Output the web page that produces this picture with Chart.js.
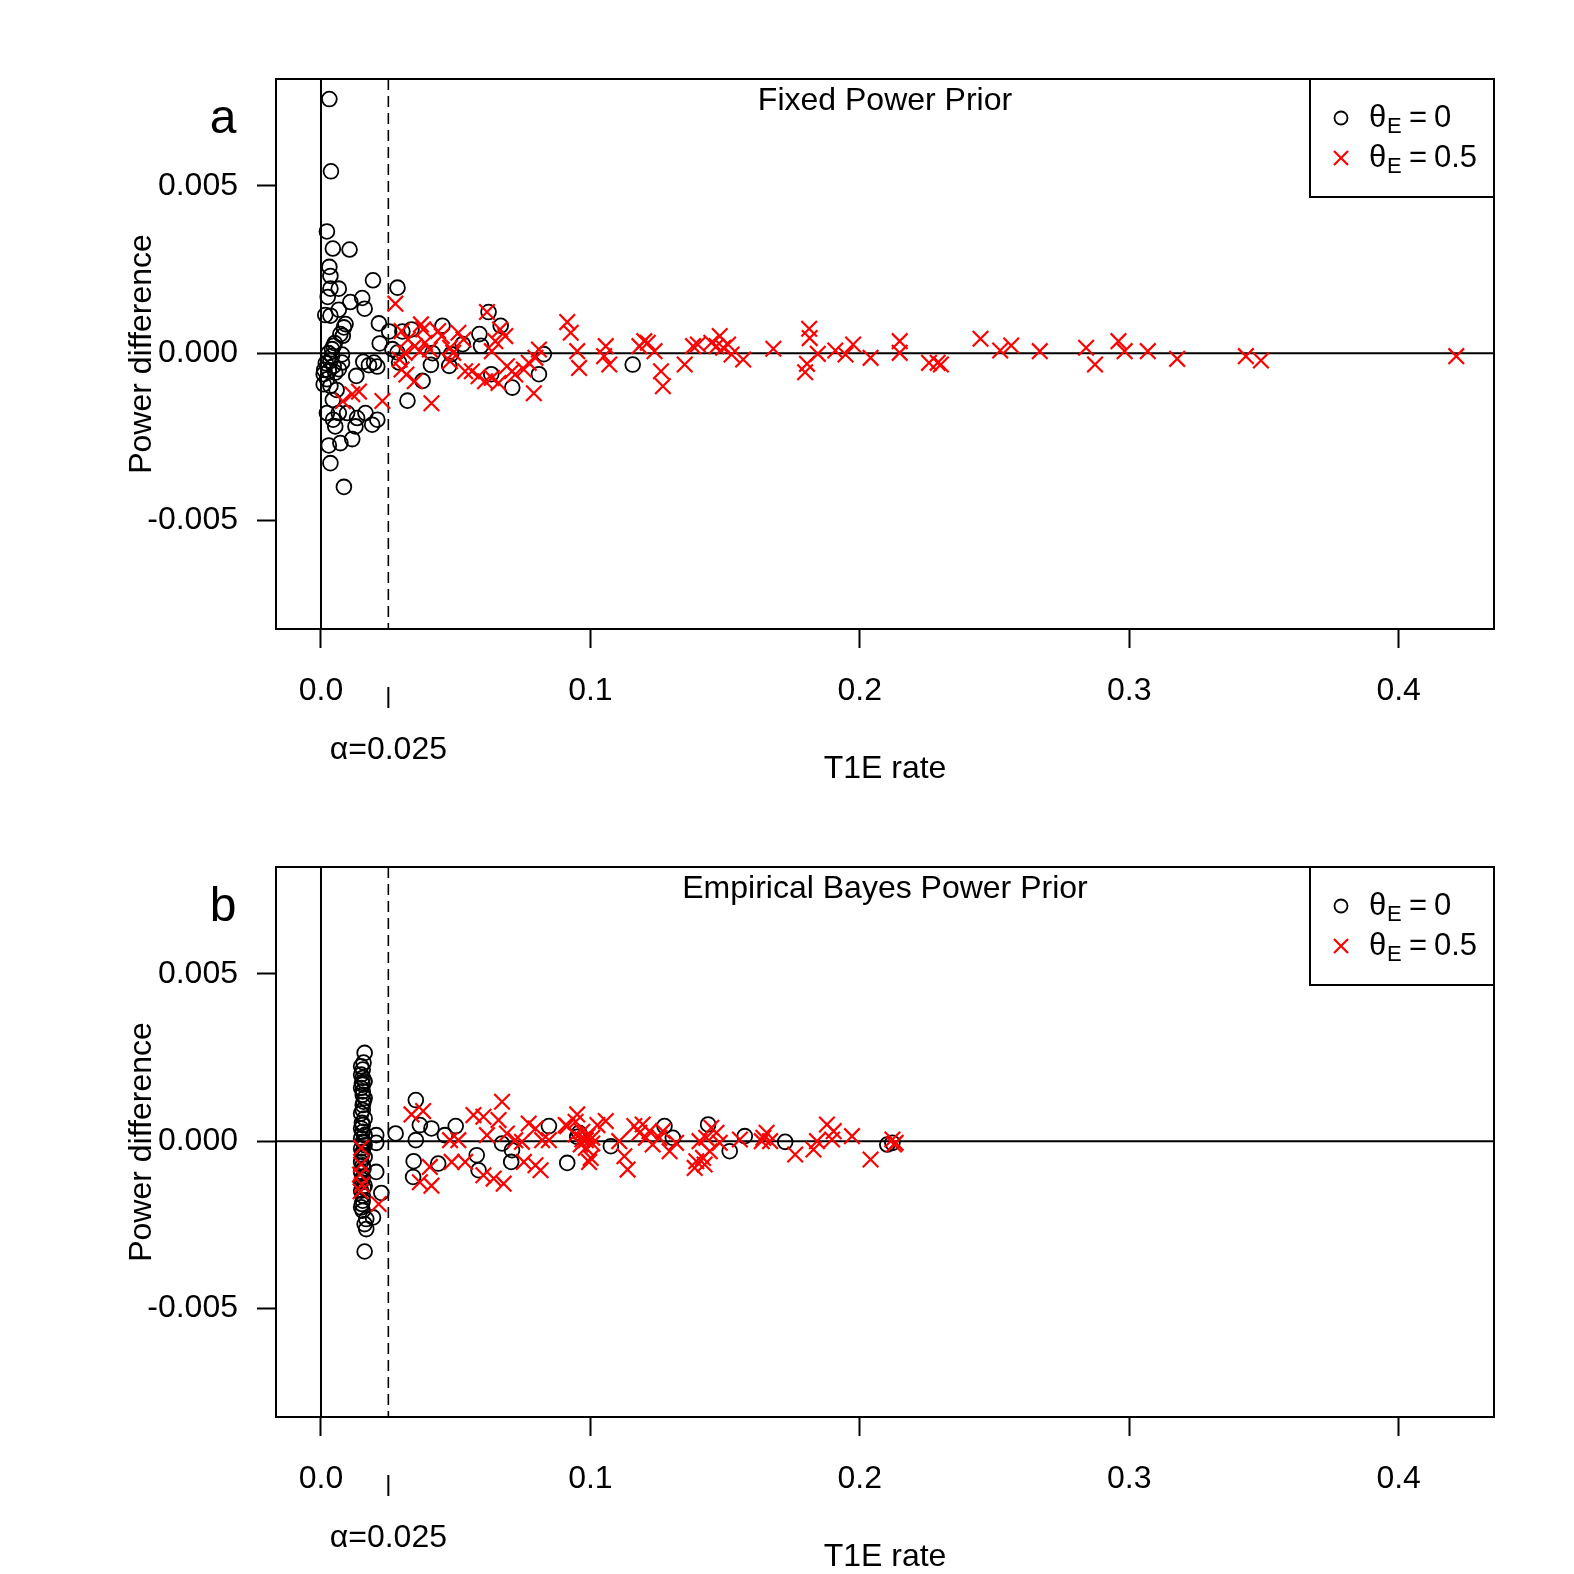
<!DOCTYPE html>
<html>
<head>
<meta charset="utf-8">
<script src="https://cdn.jsdelivr.net/npm/chart.js@4.4.1/dist/chart.umd.min.js"></script>
<style>
  body { margin: 0; background: #fff; }
  .panel { position: absolute; left: 0; width: 1574px; height: 786px; }
</style>
</head>
<body>
<div class="panel" style="top:0"><canvas id="chartA" width="1574" height="786"></canvas></div>
<div class="panel" style="top:788px"><canvas id="chartB" width="1574" height="786"></canvas></div>
<script>
// axis ticks
const xTicks = [0, 0.1, 0.2, 0.3, 0.4];
const yTicks = [-0.005, 0, 0.005];
const alpha = 0.025;
const panelTitles = ['Fixed Power Prior', 'Empirical Bayes Power Prior'];
const panelLetters = ['a', 'b'];
const seriesLabels = ['0', '0.5'];

// [T1E rate, power difference] — panel a, theta_E = 0
const fixedNull = [
  [0.0031, 0.0076], [0.0037, 0.00544], [0.0022, 0.00364], [0.0044, 0.00313], [0.0106, 0.0031],
  [0.0031, 0.00258], [0.0035, 0.00231], [0.0035, 0.00193], [0.0066, 0.00193], [0.0025, 0.00168],
  [0.0193, 0.00218], [0.0284, 0.00196], [0.0153, 0.00165], [0.0109, 0.00153], [0.0162, 0.00133],
  [0.0066, 0.0013], [0.0016, 0.00114], [0.0035, 0.00112], [0.0091, 0.00087], [0.0085, 0.00077],
  [0.0072, 0.00057], [0.0081, 0.00052], [0.0215, 0.00089], [0.0253, 0.00065], [0.0302, 0.00065],
  [0.0336, 0.00071], [0.0451, 0.00082], [0.0218, 0.00029], [0.0047, 0.00022], [0.0041, 0.00012],
  [0.0078, -0.00004], [0.0041, -0.00008], [0.0035, -0.00023], [0.0078, -0.00028], [0.0047, -0.00038],
  [0.0066, -0.00048], [0.0029, -0.00053], [0.0053, -0.00058], [0.001, -0.00063], [0.0022, -0.00078],
  [0.001, -0.00093], [0.0035, -0.00098], [0.0012, -0.0005], [0.0018, -0.0003], [0.0028, 0.0],
  [0.0051, 0.0003], [0.0058, -0.0011], [0.0044, -0.0014],
  [0.0157, -0.00026], [0.0178, -0.00036], [0.0197, -0.00028], [0.0209, -0.0004], [0.0131, -0.00068],
  [0.0284, 0.00002], [0.029, -0.00028], [0.0265, 0.00012], [0.0414, 0.0], [0.0408, -0.00035],
  [0.0483, -0.00003], [0.0476, -0.00038], [0.0588, 0.00057], [0.0594, 0.00022], [0.0526, 0.00027],
  [0.0667, 0.00082], [0.0622, 0.00123], [0.0377, -0.00083], [0.0632, -0.00063], [0.071, -0.00103],
  [0.0809, -0.00063], [0.0827, -0.00003], [0.0321, -0.00142], [0.0022, -0.00179], [0.0066, -0.00179],
  [0.0045, -0.00199], [0.0053, -0.00219], [0.0097, -0.00179], [0.0165, -0.00179], [0.0134, -0.00194],
  [0.0128, -0.00219], [0.0209, -0.00199], [0.019, -0.00214], [0.0029, -0.00276], [0.0072, -0.00269],
  [0.0116, -0.00257], [0.0035, -0.00329], [0.0085, -0.004], [0.1157, -0.00034]
];

// panel a, theta_E = 0.5
const fixedAlt = [
  [0.0276, 0.00148], [0.0616, 0.00123], [0.0914, 0.00093], [0.0927, 0.00061], [0.0371, 0.00086],
  [0.0379, 0.00071], [0.0435, 0.00066], [0.0448, 0.00051], [0.051, 0.00061], [0.0529, 0.00041],
  [0.0299, 0.00066], [0.0323, 0.00041], [0.0348, 0.00021], [0.0367, 0.00006], [0.0311, 0.00001],
  [0.0292, -0.00019], [0.0386, 0.00031], [0.0404, 0.00011], [0.0479, 0.00016], [0.0491, 0.00001],
  [0.0479, -0.00024], [0.0665, 0.00071], [0.0684, 0.00051], [0.0647, 0.00036], [0.0634, 0.00006],
  [0.0809, 0.00011], [0.0796, -0.00014], [0.0771, -0.00029], [0.0753, -0.00049], [0.0721, -0.00064],
  [0.0951, 0.00006], [0.0958, -0.00044], [0.1057, 0.00021], [0.1051, -0.00009], [0.107, -0.00034],
  [0.12, 0.00036], [0.1213, 0.00031], [0.1238, 0.00006], [0.1182, 0.00021], [0.1262, -0.00054],
  [0.1269, -0.00099], [0.135, -0.00034], [0.1381, 0.00021], [0.1399, 0.00026], [0.1449, 0.00031],
  [0.1468, 0.00021], [0.148, 0.00051], [0.1493, 0.00016], [0.1511, 0.00026], [0.1524, -0.00004],
  [0.1567, -0.00019], [0.1679, 0.00013], [0.056, -0.00054], [0.0585, -0.00069], [0.0609, -0.00084],
  [0.0634, -0.00074], [0.0659, -0.00089], [0.0535, -0.00054], [0.069, -0.00039], [0.0709, -0.00054],
  [0.041, -0.0015], [0.079, -0.0012], [0.0299, -0.00049], [0.0317, -0.00064], [0.0348, -0.00084],
  [0.0228, -0.00143], [0.0141, -0.00115], [0.0116, -0.00123], [0.0081, -0.00144],
  [0.1812, 0.00073], [0.1814, 0.00045], [0.1844, -0.00002], [0.1804, -0.00032], [0.1797, -0.00057],
  [0.1909, 0.00008], [0.1947, -0.00004], [0.1975, 0.00026], [0.204, -0.00014], [0.2148, 0.00036],
  [0.2148, 0.00001], [0.2257, -0.00029], [0.2289, -0.00029], [0.2301, -0.00034], [0.2448, 0.00043],
  [0.2521, 0.00008], [0.2562, 0.00023], [0.2668, 0.00006], [0.284, 0.00016], [0.2873, -0.00034],
  [0.296, 0.00036], [0.2983, 0.00006], [0.3069, 0.00006], [0.3178, -0.00017], [0.3433, -0.00009],
  [0.3489, -0.00022], [0.4214, -0.00009]
];

// panel b, theta_E = 0
const ebNull = [
  [0.0162, 0.00264], [0.0149, 0.00224], [0.0155, 0.00214], [0.0149, 0.00199], [0.0155, 0.00189],
  [0.0162, 0.00179], [0.0155, 0.00169], [0.0149, 0.00159], [0.0155, 0.00149], [0.0155, 0.00139],
  [0.0162, 0.00129], [0.0155, 0.00108], [0.0155, 0.00093], [0.0149, 0.00083], [0.0162, 0.00068],
  [0.0155, 0.00048], [0.0149, 0.00038], [0.0155, 0.00028], [0.0162, 0.00018], [0.0149, 0.00008],
  [0.0155, -0.00002], [0.0162, -0.00012], [0.0149, -0.00022], [0.0155, -0.00032], [0.0162, -0.00047],
  [0.0149, -0.00062], [0.0155, -0.00072], [0.0149, -0.00092], [0.0155, -0.00108], [0.0149, -0.00123],
  [0.0162, -0.00133], [0.0149, -0.00148], [0.0155, -0.00163], [0.0155, -0.00178], [0.0149, -0.00198],
  [0.0155, -0.00208], [0.0168, -0.00233], [0.0162, -0.00248], [0.0168, -0.00263], [0.0162, -0.0033],
  [0.0158, 0.00235], [0.0152, 0.00175], [0.0158, 0.00118], [0.0152, 0.00055], [0.0158, -0.00005],
  [0.0152, -0.0004], [0.0158, -0.00082], [0.0152, -0.00115], [0.0158, -0.0014], [0.0152, -0.00188],
  [0.0205, 0.00018], [0.0205, -0.00005], [0.0205, -0.00092], [0.0224, -0.00155], [0.0193, -0.00228],
  [0.0277, 0.00023], [0.0352, 0.00123], [0.0367, 0.00048], [0.041, 0.00038], [0.046, 0.00018],
  [0.05, 0.00045], [0.0352, 0.00003], [0.0344, -0.0006], [0.0342, -0.00107], [0.0435, -0.00067],
  [0.0578, -0.00042], [0.0585, -0.00087], [0.0672, -0.00007], [0.0706, -0.00062], [0.0709, -0.00027],
  [0.0846, 0.00045], [0.0914, -0.00065], [0.0951, 0.00013], [0.0958, 0.00025], [0.1076, -0.00015],
  [0.1275, 0.00045], [0.1306, 0.0001], [0.1437, 0.0005], [0.1517, -0.0003], [0.1573, 0.00015],
  [0.1723, -0.00002], [0.2102, -0.0001], [0.2121, -0.00005]
];

// panel b, theta_E = 0.5
const ebAlt = [
  [0.0149, -0.0002], [0.0149, -0.0007], [0.0145, -0.001], [0.0152, -0.0013], [0.0147, -0.0015],
  [0.0214, -0.00188], [0.0336, 0.0008], [0.0379, 0.0009], [0.0404, -0.00077], [0.0367, -0.00123],
  [0.041, -0.00133], [0.0479, 0.00003], [0.051, 0.00003], [0.0485, -0.00062], [0.0535, -0.00062],
  [0.0566, 0.00078], [0.0603, 0.00073], [0.0672, 0.00118], [0.0659, 0.00063], [0.069, 0.00023],
  [0.0616, 0.00018], [0.0721, 0.00003], [0.0746, -0.00002], [0.0603, -0.00102], [0.0641, -0.00112],
  [0.0678, -0.00127], [0.0753, -0.00062], [0.0796, -0.00072], [0.0815, -0.00087], [0.0771, 0.00053],
  [0.0796, 0.00038], [0.0821, 0.00003], [0.0846, 0.00003], [0.0908, 0.00048], [0.0945, 0.00058],
  [0.097, 0.00028], [0.0983, 0.00003], [0.1007, -0.00007], [0.0995, -0.00062], [0.1026, 0.00048],
  [0.0951, 0.0008], [0.0914, 0.00045], [0.0945, 0.0002], [0.097, 0.00005], [0.0989, 0.00015],
  [0.1007, 0.0001], [0.0983, -0.0002], [0.1001, -0.0005], [0.0964, -0.0001], [0.1057, 0.0006],
  [0.1138, -0.00085], [0.1126, -0.00045], [0.1107, 0.0], [0.1163, 0.00045], [0.1194, 0.0005],
  [0.1219, 0.0003], [0.1182, 0.00025], [0.1206, 0.0001], [0.1231, -0.0001], [0.1256, 0.0001],
  [0.1269, 0.0003], [0.1294, -0.0003], [0.1318, -0.00005], [0.1387, -0.0008], [0.1393, -0.0006],
  [0.1418, -0.0005], [0.1405, 0.0], [0.143, 0.0001], [0.1449, 0.0004], [0.1468, 0.00025],
  [0.148, -0.00005], [0.1443, -0.0003], [0.1424, -0.0007], [0.1555, 0.00005], [0.1642, 0.0001],
  [0.1654, 0.00025], [0.1667, 0.0], [0.1636, 0.0], [0.176, -0.0004], [0.1828, -0.00025],
  [0.1841, 0.0], [0.1878, 0.0005], [0.1897, 0.00005], [0.1903, 0.0003], [0.1971, 0.00015],
  [0.204, -0.00055], [0.2121, 0.00005], [0.2133, -0.00005], [0.2127, -0.0001]
];

const FONT = '"Liberation Sans", Arial, sans-serif';
Chart.defaults.font.family = FONT;
Chart.defaults.color = '#000';

function toPoints(pairs) {
  return pairs.map(p => ({ x: p[0], y: p[1] }));
}

// R-style decorations: box, reference lines, titles, legend
const rDecor = {
  id: 'rDecor',
  beforeDatasetsDraw(chart, args, opts) {
    const { ctx, chartArea: a, scales: { x, y } } = chart;
    ctx.save();
    ctx.strokeStyle = '#000';
    ctx.lineWidth = 2;
    const x0 = x.getPixelForValue(0), y0 = y.getPixelForValue(0), xa = x.getPixelForValue(alpha);
    ctx.beginPath();
    ctx.moveTo(x0, a.top); ctx.lineTo(x0, a.bottom);
    ctx.moveTo(a.left, y0); ctx.lineTo(a.right, y0);
    ctx.stroke();
    ctx.setLineDash([11, 6]);
    ctx.lineWidth = 1.6;
    ctx.beginPath();
    ctx.moveTo(xa, a.top); ctx.lineTo(xa, a.bottom);
    ctx.stroke();
    ctx.restore();
  },
  afterDraw(chart, args, opts) {
    const { ctx, chartArea: a, scales: { x } } = chart;
    ctx.save();
    ctx.strokeStyle = '#000';
    ctx.fillStyle = '#000';
    ctx.lineWidth = 2;
    ctx.strokeRect(a.left, a.top, a.right - a.left, a.bottom - a.top);

    // title inside box
    ctx.font = '32px ' + FONT;
    ctx.textAlign = 'center';
    ctx.textBaseline = 'middle';
    ctx.fillText(opts.title, (a.left + a.right) / 2, a.top + 22);

    // panel letter
    ctx.font = '48px ' + FONT;
    ctx.fillText(opts.letter, 223, a.top + 41);

    // axis titles
    ctx.font = '32px ' + FONT;
    ctx.fillText('T1E rate', (a.left + a.right) / 2, a.bottom + 140);
    ctx.save();
    ctx.translate(142, (a.top + a.bottom) / 2);
    ctx.rotate(-Math.PI / 2);
    ctx.fillText('Power difference', 0, 0);
    ctx.restore();

    // alpha tick and label
    const xa = x.getPixelForValue(alpha);
    ctx.beginPath();
    ctx.moveTo(xa, a.bottom + 58); ctx.lineTo(xa, a.bottom + 79);
    ctx.stroke();
    ctx.fillText('\u03b1=' + alpha, xa, a.bottom + 121);

    // legend
    const lw = 184, lh = 118, lx = a.right - lw, ly = a.top;
    ctx.strokeRect(lx, ly, lw, lh);
    const rows = [ly + 39, ly + 79];
    ctx.lineWidth = 1.8;
    ctx.beginPath();
    ctx.arc(lx + 31, rows[0], 6.5, 0, Math.PI * 2);
    ctx.stroke();
    ctx.strokeStyle = '#ff0000';
    ctx.lineWidth = 2.2;
    ctx.beginPath();
    ctx.moveTo(lx + 24, rows[1] - 7); ctx.lineTo(lx + 38, rows[1] + 7);
    ctx.moveTo(lx + 38, rows[1] - 7); ctx.lineTo(lx + 24, rows[1] + 7);
    ctx.stroke();
    ctx.textAlign = 'left';
    rows.forEach((ry, i) => {
      ctx.font = '31px ' + FONT;
      ctx.fillText('\u03b8', lx + 59, ry);
      ctx.font = '22px ' + FONT;
      ctx.fillText('E', lx + 77, ry + 9);
      ctx.font = '31px ' + FONT;
      ctx.fillText('=', lx + 99, ry);
      ctx.fillText(seriesLabels[i], lx + 124, ry);
    });
    ctx.restore();
  }
};

function makePanel(canvasId, nullPairs, altPairs, idx) {
  const ctx = document.getElementById(canvasId).getContext('2d');
  return new Chart(ctx, {
    type: 'scatter',
    data: {
      datasets: [
        {
          label: '\u03b8E = ' + seriesLabels[1],
          data: toPoints(altPairs),
          pointStyle: 'crossRot',
          pointRadius: 11,
          borderColor: '#ff0000',
          backgroundColor: '#ff0000',
          borderWidth: 2.2,
          order: 0
        },
        {
          label: '\u03b8E = ' + seriesLabels[0],
          data: toPoints(nullPairs),
          pointStyle: 'circle',
          pointRadius: 7.4,
          borderColor: '#000',
          backgroundColor: 'rgba(0,0,0,0)',
          borderWidth: 1.8,
          order: 1
        }
      ]
    },
    options: {
      responsive: false,
      animation: false,
      layout: { padding: { top: 79, right: 80, left: 0, bottom: 0 } },
      plugins: {
        legend: { display: false },
        tooltip: { enabled: false },
        rDecor: { title: panelTitles[idx], letter: panelLetters[idx] }
      },
      scales: {
        x: {
          type: 'linear',
          min: -0.0167,
          max: 0.4354,
          afterBuildTicks: s => { s.ticks = xTicks.map(v => ({ value: v })); },
          afterFit: s => { s.height = 157; },
          ticks: { callback: v => v.toFixed(1), font: { size: 32 }, padding: 24, maxRotation: 0, autoSkip: false, color: '#000' },
          grid: { drawOnChartArea: false, drawTicks: true, tickLength: 19, tickWidth: 2, tickColor: '#000' },
          border: { display: false }
        },
        y: {
          type: 'linear',
          min: -0.00825,
          max: 0.0082,
          afterBuildTicks: s => { s.ticks = yTicks.map(v => ({ value: v })); },
          afterFit: s => { s.width = 276; },
          ticks: { callback: v => v.toFixed(3), font: { size: 32 }, padding: 19, color: '#000' },
          grid: { drawOnChartArea: false, drawTicks: true, tickLength: 19, tickWidth: 2, tickColor: '#000' },
          border: { display: false }
        }
      }
    },
    plugins: [rDecor]
  });
}

makePanel('chartA', fixedNull, fixedAlt, 0);
makePanel('chartB', ebNull, ebAlt, 1);
</script>
</body>
</html>
